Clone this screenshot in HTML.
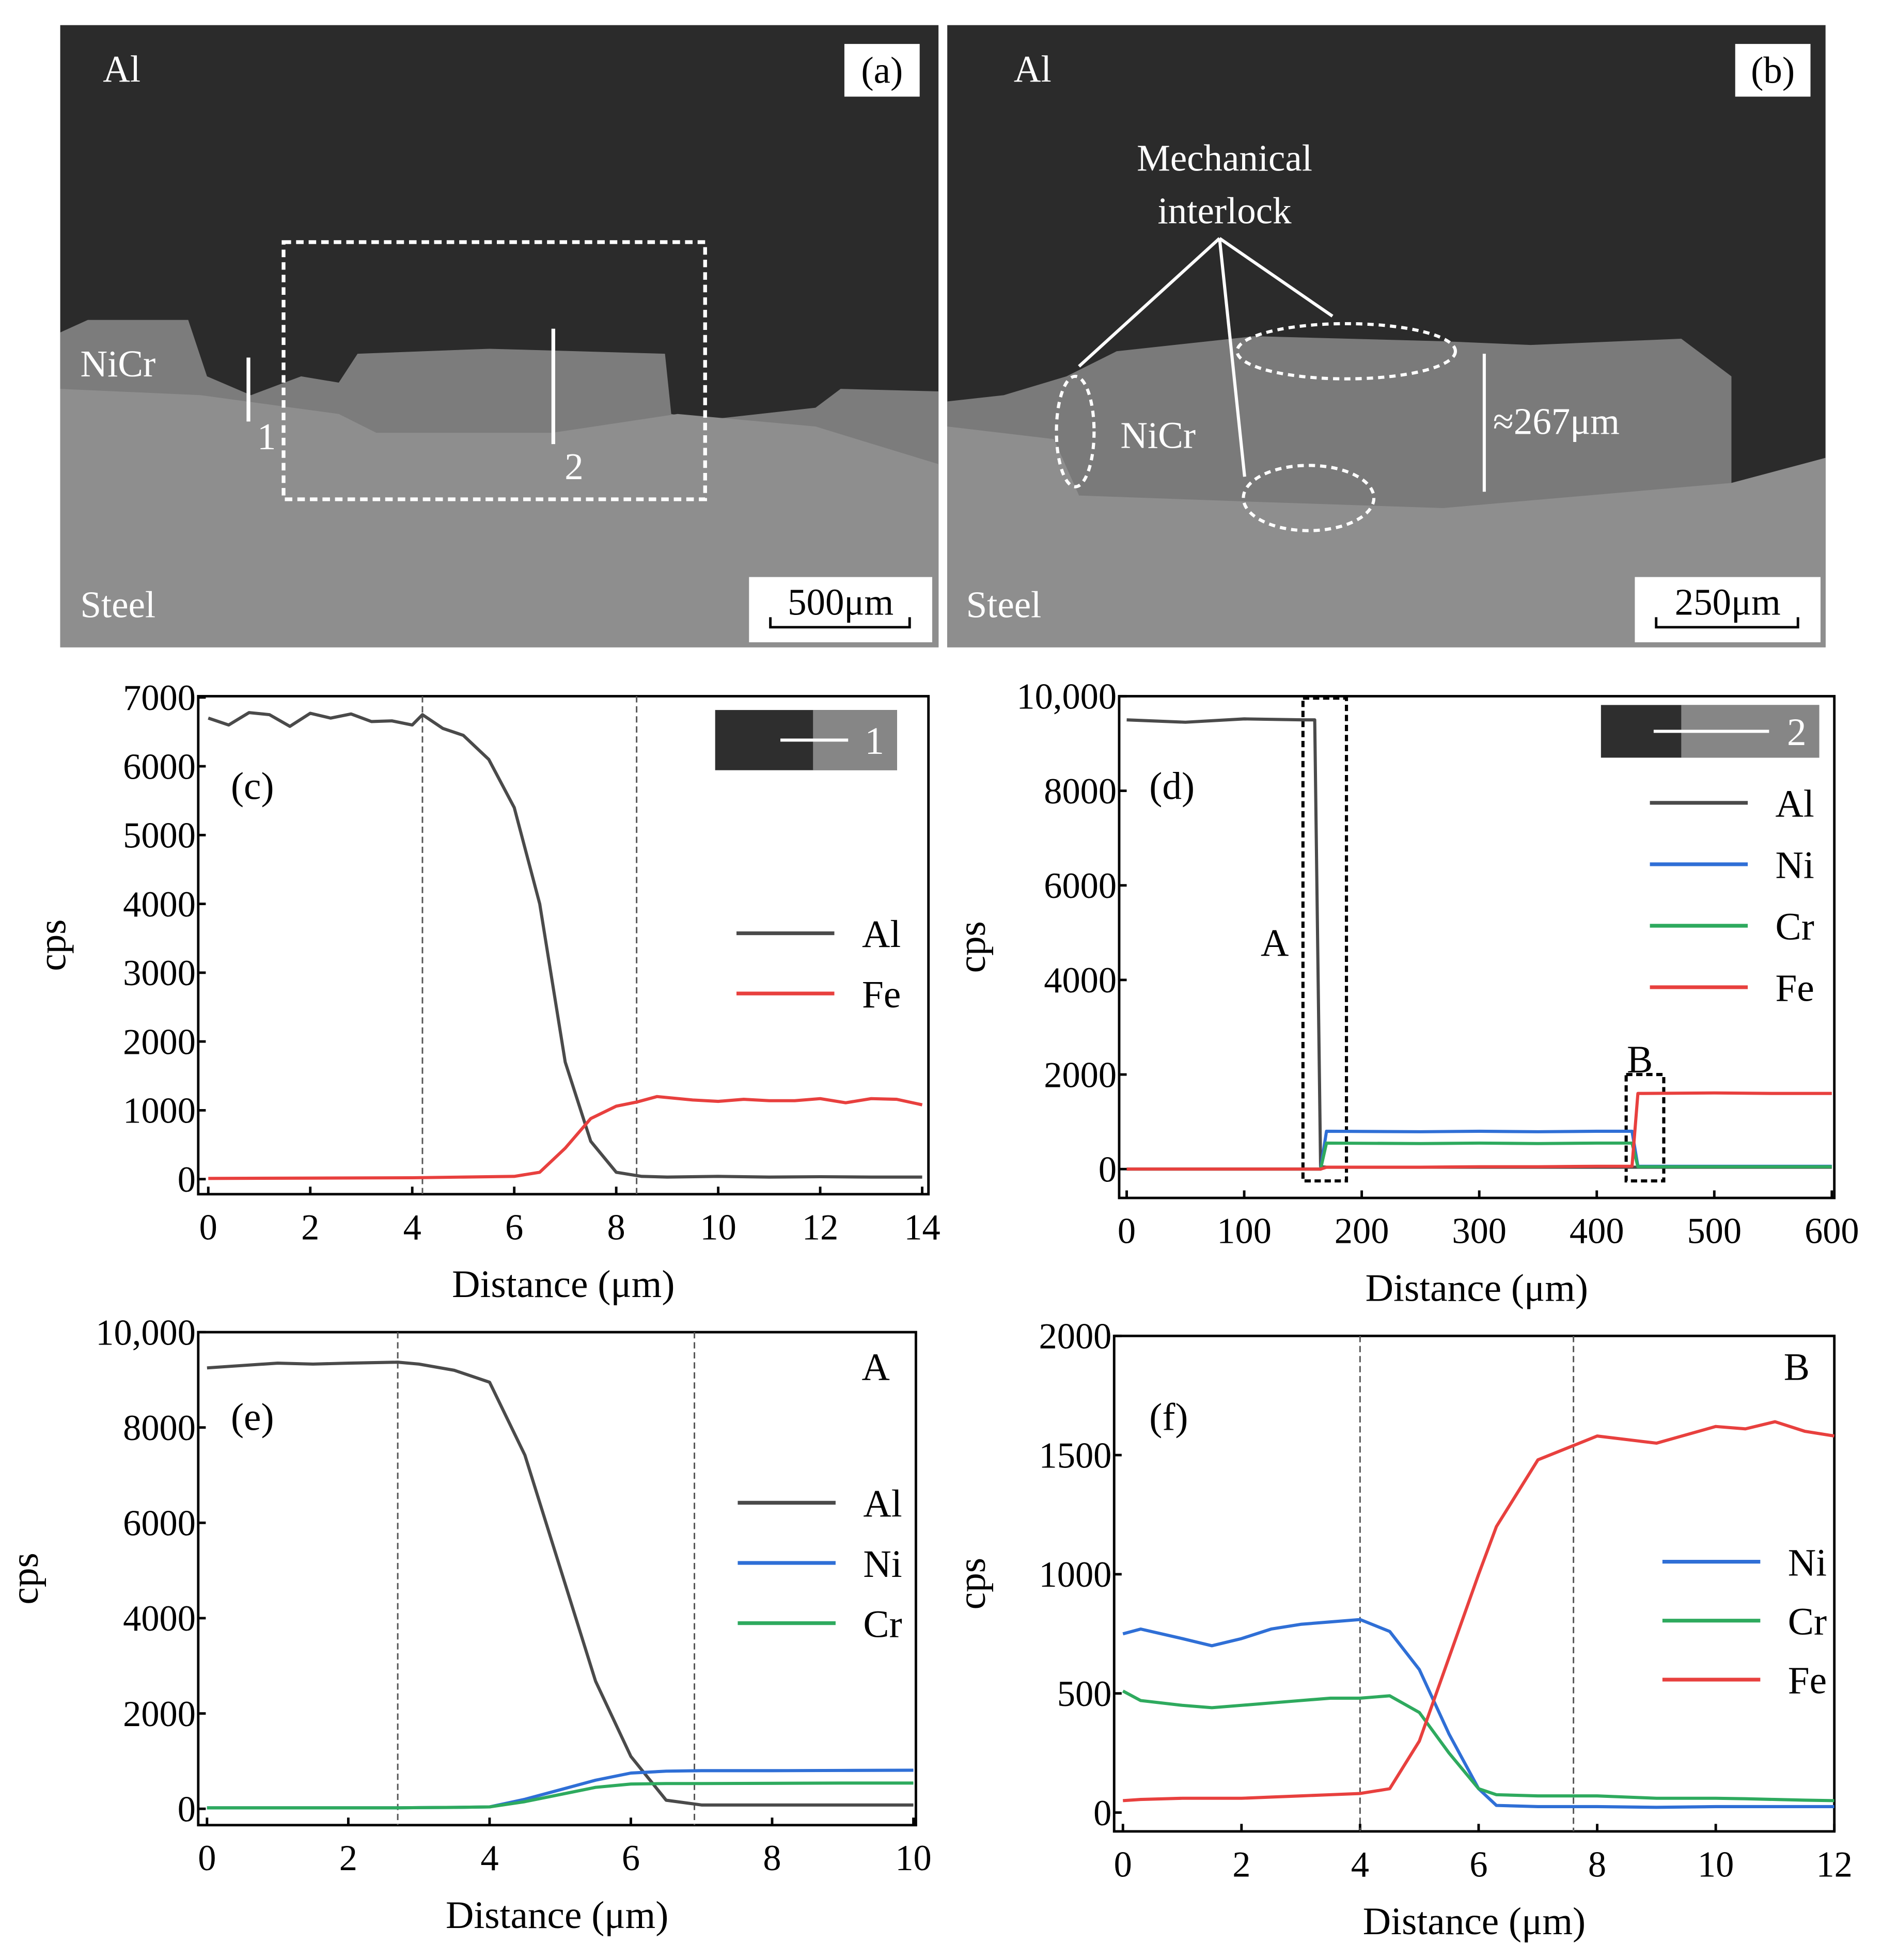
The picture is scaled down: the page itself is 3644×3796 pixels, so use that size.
<!DOCTYPE html>
<html><head><meta charset="utf-8">
<style>
html,body{margin:0;padding:0;background:#fff;}
svg{display:block;}
text{font-family:"Liberation Serif",serif;}
</style></head>
<body>
<svg id="fig" width="3644" height="3796" viewBox="0 0 1500 1562.5" xmlns="http://www.w3.org/2000/svg">
<rect width="1500" height="1562.5" fill="#fff"/>
<!-- Panel (a) -->
<g>
<rect x="48" y="20" width="700" height="496" fill="#2b2b2b"/>
<path d="M48,265 L70,255 L150,255 L165,300 L200,315 L240,300 L270,305 L285,282 L390,278 L530,282 L535,330 L560,335 L650,325 L670,310 L748,312 L748,516 L48,516 Z" fill="#7c7c7c"/>
<path d="M48,310 L160,315 L270,330 L300,345 L440,345 L540,330 L650,340 L748,370 L748,516 L48,516 Z" fill="#8e8e8e"/>
<rect x="226" y="193" width="336" height="205" fill="none" stroke="#fff" stroke-width="3" stroke-dasharray="6,4"/>
<line x1="198" y1="285" x2="198" y2="336" stroke="#fff" stroke-width="3"/>
<line x1="441" y1="262" x2="441" y2="354" stroke="#fff" stroke-width="3"/>
<text x="82" y="65" fill="#fff" font-size="30">Al</text>
<text x="64" y="300" fill="#fff" font-size="30">NiCr</text>
<text x="64" y="492" fill="#fff" font-size="30">Steel</text>
<text x="205" y="358" fill="#fff" font-size="30">1</text>
<text x="450" y="382" fill="#fff" font-size="30">2</text>
<rect x="673" y="35" width="60" height="42" fill="#fff"/>
<text x="703" y="66" fill="#000" font-size="30" text-anchor="middle">(a)</text>
<rect x="597" y="460" width="146" height="52" fill="#fff"/>
<text x="670" y="490" fill="#000" font-size="30" text-anchor="middle">500μm</text>
<path d="M614,492 L614,500 L725,500 L725,492" fill="none" stroke="#000" stroke-width="2"/>
</g>
<!-- Panel (b) -->
<g>
<rect x="755" y="20" width="700" height="496" fill="#2b2b2b"/>
<path d="M755,320 L800,315 L850,300 L890,280 L1000,268 L1150,272 L1220,275 L1340,270 L1380,300 L1380,385 L1455,365 L1455,516 L755,516 Z" fill="#7a7a7a"/>
<path d="M755,340 L840,350 L860,395 L1000,400 L1150,405 L1380,385 L1455,365 L1455,516 L755,516 Z" fill="#8e8e8e"/>
<ellipse cx="857" cy="344" rx="15" ry="44" fill="none" stroke="#fff" stroke-width="2.5" stroke-dasharray="5,4"/>
<ellipse cx="1073" cy="280" rx="87" ry="22" fill="none" stroke="#fff" stroke-width="2.5" stroke-dasharray="5,4"/>
<ellipse cx="1043" cy="397" rx="52" ry="26" fill="none" stroke="#fff" stroke-width="2.5" stroke-dasharray="5,4"/>
<g stroke="#fff" stroke-width="2.5">
<line x1="972" y1="190" x2="860" y2="292"/><line x1="972" y1="190" x2="1062" y2="252"/><line x1="972" y1="190" x2="992" y2="380"/>
<line x1="1183" y1="282" x2="1183" y2="392"/></g>
<text x="808" y="65" fill="#fff" font-size="30">Al</text>
<text x="976" y="136" fill="#fff" font-size="30" text-anchor="middle">Mechanical</text>
<text x="976" y="178" fill="#fff" font-size="30" text-anchor="middle">interlock</text>
<text x="893" y="357" fill="#fff" font-size="30">NiCr</text>
<text x="1190" y="346" fill="#fff" font-size="30">≈267μm</text>
<text x="770" y="492" fill="#fff" font-size="30">Steel</text>
<rect x="1383" y="35" width="60" height="42" fill="#fff"/>
<text x="1413" y="66" fill="#000" font-size="30" text-anchor="middle">(b)</text>
<rect x="1303" y="460" width="148" height="52" fill="#fff"/>
<text x="1377" y="490" fill="#000" font-size="30" text-anchor="middle">250μm</text>
<path d="M1320,492 L1320,500 L1433,500 L1433,492" fill="none" stroke="#000" stroke-width="2"/>
</g>
<g id="charts"></g>
</svg>
<script>
// ---- data (c)
const cX = [0,0.4,0.8,1.2,1.6,2,2.4,2.8,3.2,3.6,4,4.2,4.6,5,5.5,6,6.5,7,7.5,8,8.5,9,10,11,12,13,14];
const cAl = [6700,6600,6780,6750,6580,6770,6700,6760,6650,6660,6600,6750,6550,6450,6100,5400,4000,1700,550,100,40,30,40,30,35,30,30];
const cFeX = [0,2,4,5,6,6.5,7,7.5,8,8.4,8.8,9.5,10,10.5,11,11.5,12,12.5,13,13.5,14];
const cFe = [10,15,20,30,40,100,450,880,1060,1120,1200,1150,1130,1160,1140,1140,1170,1110,1170,1160,1080];
// ---- data (d)
const dX = [0,50,100,150,160,165,170,250,300,350,400,430,435,440,500,550,600];
const dAl = [9500,9450,9520,9500,9500,50,40,40,40,40,40,40,40,40,40,40,40];
const dNi = [0,0,0,0,0,0,800,790,800,790,800,800,60,60,60,60,60];
const dCr = [0,0,0,0,0,0,550,540,550,540,550,550,50,50,50,50,50];
const dFe = [0,0,0,0,0,0,40,40,50,50,60,60,1600,1600,1610,1600,1600];
// ---- data (e)
const eX = [0,0.5,1,1.5,2,2.7,3,3.5,4,4.5,5,5.5,6,6.5,7,8,9,10];
const eAl = [9250,9300,9350,9330,9350,9370,9330,9200,8950,7420,5050,2680,1100,180,80,80,80,80];
const eNi = [20,20,20,20,20,20,25,30,40,200,400,600,750,790,800,800,805,810];
const eCr = [20,20,20,20,20,20,25,30,40,150,300,450,520,530,530,535,540,540];
// ---- data (f)
const fX = [0,0.3,1,1.5,2,2.5,3,3.5,4,4.5,5,5.5,6,6.3,7,8,9,10,10.5,11,11.5,12];
const fNi = [750,770,730,700,730,770,790,800,810,760,600,330,100,30,25,25,22,25,25,25,25,25];
const fCr = [510,470,450,440,450,460,470,480,480,490,420,250,100,75,70,70,60,60,58,55,52,50];
const fFe = [50,55,60,60,60,65,70,75,80,100,300,650,1000,1200,1480,1580,1550,1620,1610,1640,1600,1580];

const NS="http://www.w3.org/2000/svg";
const root=document.getElementById('charts');
function mk(tag,attrs,parent){const e=document.createElementNS(NS,tag);for(const k in attrs)e.setAttribute(k,attrs[k]);(parent||root).appendChild(e);return e;}
function chart(cfg){
  const g=mk('g',{});
  
  
  const sx=v=>cfg.x0+(v-cfg.xmin)/(cfg.xmax-cfg.xmin)*(cfg.x1-cfg.x0);
  const sy=v=>cfg.y0-(v-cfg.ymin)/(cfg.ymax-cfg.ymin)*(cfg.y0-cfg.y1);
  const fr=mk('rect',{x:cfg.fl,y:cfg.ft,width:cfg.fr-cfg.fl,height:cfg.fb-cfg.ft,fill:'none',stroke:'#000','stroke-width':2},g);
  
  
  cfg.xticks.forEach(t=>{
    mk('line',{x1:sx(t),x2:sx(t),y1:cfg.fb,y2:cfg.fb-6,stroke:'#000','stroke-width':2},g);
    const tx=mk('text',{x:sx(t),y:cfg.fb+36,'font-size':29,'text-anchor':'middle'},g);tx.textContent=t;
    
    
  });
  cfg.yticks.forEach((t,i)=>{
    mk('line',{x1:cfg.fl,x2:cfg.fl+6,y1:sy(t),y2:sy(t),stroke:'#000','stroke-width':2},g);
    const tx=mk('text',{x:cfg.fl-2,y:sy(t)+10,'font-size':29,'text-anchor':'end'},g);tx.textContent=cfg.ylabels[i];
    
    
  });
  const xl=mk('text',{x:(cfg.fl+cfg.fr)/2,y:cfg.fb+82,'font-size':31,'text-anchor':'middle'},g);xl.textContent='Distance (μm)';
  
  
  const yl=mk('text',{x:cfg.ylx,y:(cfg.ft+cfg.fb)/2,'font-size':31,'text-anchor':'middle',transform:`rotate(-90 ${cfg.ylx} ${(cfg.ft+cfg.fb)/2})`},g);yl.textContent='cps';
  
  
  (cfg.vlines||[]).forEach(v=>{
    const l=mk('line',{x1:sx(v),x2:sx(v),y1:cfg.ft,y2:cfg.fb,stroke:'#555','stroke-width':1.2,'stroke-dasharray':'5,3'},g);
    
    
  });
  (cfg.boxes||[]).forEach(b=>{
    const r=mk('rect',{x:sx(b.a),y:sy(b.top),width:sx(b.b)-sx(b.a),height:sy(b.bot)-sy(b.top),fill:'none',stroke:'#000','stroke-width':2.5,'stroke-dasharray':'5,3'},g);
    
    
    const t=mk('text',{x:b.lx,y:b.ly,'font-size':31,'text-anchor':'middle'},g);t.textContent=b.label;
    
    
  });
  cfg.series.forEach(s=>{
    const p=mk('polyline',{points:s.x.map((v,i)=>sx(v)+','+sy(s.y[i])).join(' '),fill:'none',stroke:s.c,'stroke-width':2.5,'stroke-linejoin':'round'},g);
    
    
  });
  cfg.series.forEach((s,i)=>{
    const y=cfg.legY+i*cfg.legDy;
    const l=mk('line',{x1:cfg.legX,x2:cfg.legX+78,y1:y,y2:y,stroke:s.c,'stroke-width':3},g);
    
    
    const t=mk('text',{x:cfg.legX+100,y:y+11,'font-size':31},g);t.textContent=s.n;
    
    
  });
  const pl=mk('text',{x:cfg.plx,y:cfg.ply,'font-size':31},g);pl.textContent=cfg.panel;
  
  
  if(cfg.inset){const n=cfg.inset;
    mk('rect',{x:n.x,y:n.y,width:n.w,height:n.h,fill:'#2e2e2e'},g);
    mk('rect',{x:n.split,y:n.y,width:n.x+n.w-n.split,height:n.h,fill:'#868686'},g);
    mk('line',{x1:n.l1,x2:n.l2,y1:n.y+n.h/2,y2:n.y+n.h/2,stroke:'#fff','stroke-width':2.5},g);
    const t=mk('text',{x:n.x+n.w-18,y:n.y+n.h/2+11,'font-size':31,fill:'#fff','text-anchor':'middle'},g);t.textContent=n.t;
    
    
  }
  if(cfg.corner){const t=mk('text',{x:cfg.corner.x,y:cfg.corner.y,'font-size':31,'text-anchor':'middle'},g);t.textContent=cfg.corner.t;
    
    }
}
const K='#4a4a4a',B='#2f6fd6',G='#2eaa5e',R='#e8403e';
chart({name:'chart-c',panel:'(c)',plx:184,ply:637,xmin:0,xmax:14,ymin:0,ymax:7000,x0:166,x1:735,y0:940,y1:556,
 fl:158,fr:740,ft:555,fb:952,ylx:52,xticks:[0,2,4,6,8,10,12,14],yticks:[0,1000,2000,3000,4000,5000,6000,7000],
 ylabels:['0','1000','2000','3000','4000','5000','6000','7000'],vlines:[4.2,8.4],
 series:[{n:'Al',c:K,x:cX,y:cAl},{n:'Fe',c:R,x:cFeX,y:cFe}],legX:587,legY:744,legDy:48,
 inset:{x:570,y:566,w:145,h:48,split:648,l1:622,l2:676,t:'1'}});
chart({name:'chart-d',panel:'(d)',plx:916,ply:637,xmin:0,xmax:600,ymin:0,ymax:10000,x0:898,x1:1460,y0:932,y1:555,
 fl:892,fr:1462,ft:555,fb:955,ylx:785,xticks:[0,100,200,300,400,500,600],yticks:[0,2000,4000,6000,8000,10000],
 ylabels:['0','2000','4000','6000','8000','10,000'],
 boxes:[{a:150,b:187,top:9960,bot:-250,label:'A',lx:1016,ly:762},{a:425,b:457,top:2000,bot:-250,label:'B',lx:1307,ly:855}],
 series:[{n:'Al',c:K,x:dX,y:dAl},{n:'Ni',c:B,x:dX,y:dNi},{n:'Cr',c:G,x:dX,y:dCr},{n:'Fe',c:R,x:dX,y:dFe}],legX:1315,legY:640,legDy:49,
 inset:{x:1276,y:562,w:174,h:42,split:1340,l1:1318,l2:1410,t:'2'}});
chart({name:'chart-e',panel:'(e)',plx:184,ply:1140,xmin:0,xmax:10,ymin:0,ymax:10000,x0:165,x1:728,y0:1442,y1:1062,
 fl:158,fr:730,ft:1062,fb:1455,ylx:30,xticks:[0,2,4,6,8,10],yticks:[0,2000,4000,6000,8000,10000],
 ylabels:['0','2000','4000','6000','8000','10,000'],vlines:[2.7,6.9],
 series:[{n:'Al',c:K,x:eX,y:eAl},{n:'Ni',c:B,x:eX,y:eNi},{n:'Cr',c:G,x:eX,y:eCr}],legX:588,legY:1198,legDy:48,
 corner:{x:698,y:1100,t:'A'}});
chart({name:'chart-f',panel:'(f)',plx:916,ply:1140,xmin:0,xmax:12,ymin:0,ymax:2000,x0:895,x1:1462,y0:1445,y1:1065,
 fl:888,fr:1462,ft:1065,fb:1460,ylx:785,xticks:[0,2,4,6,8,10,12],yticks:[0,500,1000,1500,2000],
 ylabels:['0','500','1000','1500','2000'],vlines:[4.0,7.6],
 series:[{n:'Ni',c:B,x:fX,y:fNi},{n:'Cr',c:G,x:fX,y:fCr},{n:'Fe',c:R,x:fX,y:fFe}],legX:1325,legY:1245,legDy:47,
 corner:{x:1432,y:1100,t:'B'}});
</script>
</body></html>
